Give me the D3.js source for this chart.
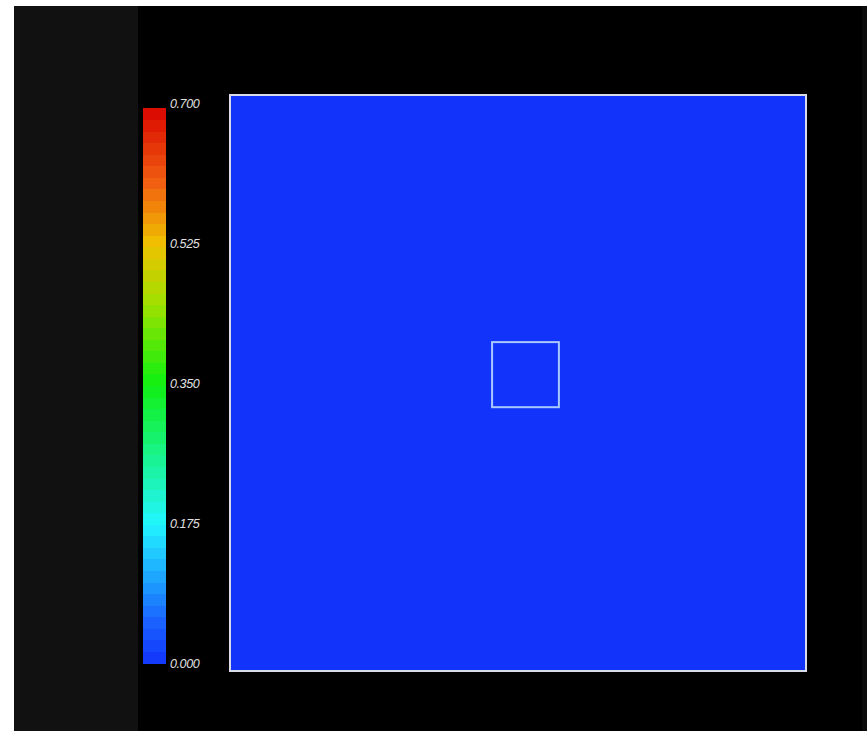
<!DOCTYPE html>
<html>
<head>
<meta charset="utf-8">
<script src="https://cdn.jsdelivr.net/npm/d3@7"></script>
<style>
  html, body { margin: 0; padding: 0; background: #fff; }
  svg { display: block; }
</style>
</head>
<body>
<div id="chart"></div>
<script>
// scalar field on a coarse grid (all cells at zero)
const gridX = [0, 0.25, 0.5, 0.75];
const gridY = [0, 0.25, 0.5, 0.75];
const fieldValues = [
  [0, 0, 0, 0],
  [0, 0, 0, 0],
  [0, 0, 0, 0],
  [0, 0, 0, 0]
];
const cellSize = 0.25;

// outline of the inner block, in domain units
const blockX = [0.455, 0.571];
const blockY = [0.458, 0.571];

// colour legend
const legendTicks = [0, 0.175, 0.35, 0.525, 0.7];
const colourStops = [0, 0.05, 0.175, 0.35, 0.45, 0.525, 0.6, 0.7];
const colourValues = ['#1234fa', '#1a60ff', '#22f6ff', '#10f010', '#a0e000', '#f0c000', '#f06010', '#d80000'];
const nBands = 48;

const width = 867;
const height = 731;

const svg = d3.select('#chart').append('svg')
  .attr('width', width)
  .attr('height', height);

// backgrounds
svg.append('rect').attr('x', 14).attr('y', 6).attr('width', width - 14).attr('height', height - 6).attr('fill', '#000');
svg.append('rect').attr('x', 14).attr('y', 6).attr('width', 124).attr('height', height - 6).attr('fill', '#111');
svg.append('rect').attr('x', 862).attr('y', 6).attr('width', 5).attr('height', height - 6).attr('fill', '#0b0b0b');

const colour = d3.scaleLinear().domain(colourStops).range(colourValues).clamp(true);

// plot area
const plot = { left: 230, top: 95, size: 576 };
const x = d3.scaleLinear().domain([0, 1]).range([plot.left, plot.left + plot.size]);
const y = d3.scaleLinear().domain([0, 1]).range([plot.top + plot.size, plot.top]);

const cells = [];
fieldValues.forEach((row, j) => row.forEach((v, i) => cells.push({ x: gridX[i], y: gridY[j], v })));

svg.append('g').selectAll('rect')
  .data(cells)
  .enter()
  .append('rect')
  .attr('x', d => x(d.x))
  .attr('y', d => y(d.y + cellSize))
  .attr('width', x(cellSize) - x(0) + 0.5)
  .attr('height', y(0) - y(cellSize) + 0.5)
  .attr('fill', d => colour(d.v))
  .attr('shape-rendering', 'crispEdges');

svg.append('rect')
  .attr('x', x(0))
  .attr('y', y(1))
  .attr('width', x(1) - x(0))
  .attr('height', y(0) - y(1))
  .attr('fill', 'none')
  .attr('stroke', '#d8dce8')
  .attr('stroke-width', 2);

svg.append('rect')
  .attr('x', x(blockX[0]))
  .attr('y', y(blockY[1]))
  .attr('width', x(blockX[1]) - x(blockX[0]))
  .attr('height', y(blockY[0]) - y(blockY[1]))
  .attr('fill', 'none')
  .attr('stroke', '#a8c8ff')
  .attr('stroke-width', 2);

// colour bar
const barTop = 108;
const legendScale = d3.scaleLinear().domain([0, 0.7]).range([663, 103]);
const bandValue = d3.scaleLinear().domain([0, 1]).range([0, legendScale.invert(barTop)]);
const bands = d3.range(nBands).map(i => ({
  lo: bandValue(i / nBands),
  hi: bandValue((i + 1) / nBands)
}));

svg.append('g').selectAll('rect')
  .data(bands)
  .enter()
  .append('rect')
  .attr('x', 143)
  .attr('width', 23)
  .attr('y', d => legendScale(d.hi))
  .attr('height', d => legendScale(d.lo) - legendScale(d.hi) + 0.5)
  .attr('fill', d => colour((d.lo + d.hi) / 2))
  .attr('shape-rendering', 'crispEdges');

const axis = d3.axisRight(legendScale)
  .tickValues(legendTicks)
  .tickFormat(d3.format('.3f'))
  .tickSize(0)
  .tickPadding(0);

const ag = svg.append('g')
  .attr('transform', 'translate(170,0)')
  .call(axis);
ag.select('.domain').remove();
ag.selectAll('text')
  .attr('fill', '#e0e0e0')
  .attr('font-family', 'Liberation Sans, Arial, sans-serif')
  .attr('font-style', 'italic')
  .attr('font-size', 12.5)
  .attr('letter-spacing', -0.4);
</script>
</body>
</html>
